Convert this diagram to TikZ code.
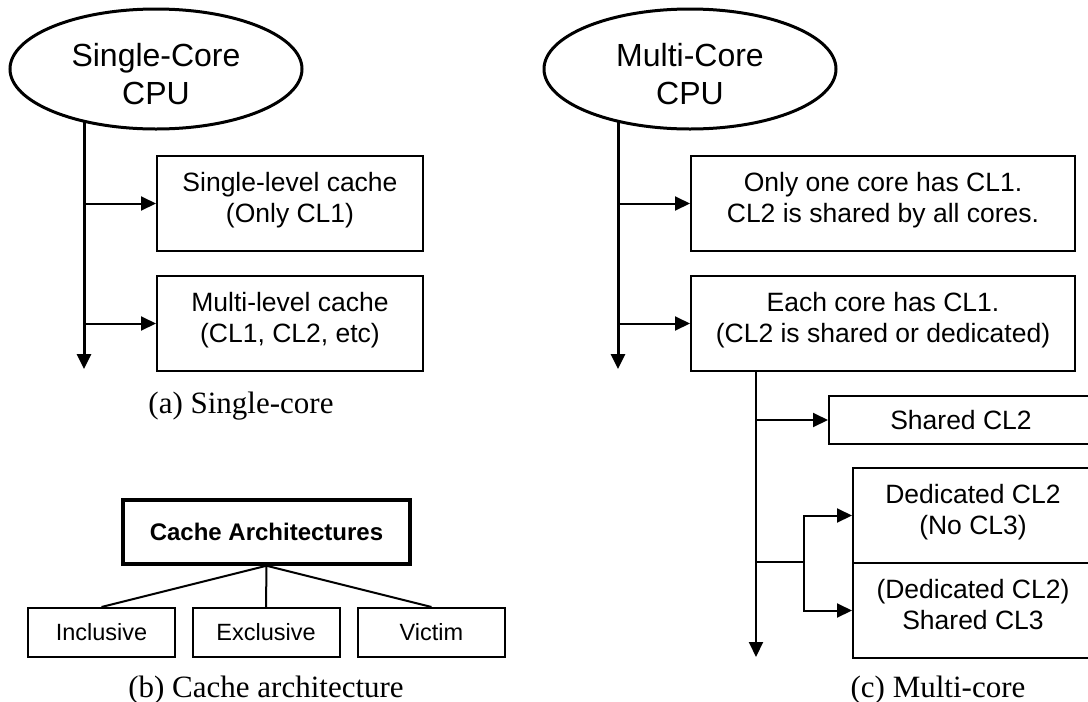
\documentclass[tikz,border=0pt]{standalone}
\usepackage{fontspec}
\setmainfont{Liberation Sans}
\newfontfamily\capfont{Liberation Serif}
\usetikzlibrary{arrows.meta,shapes.geometric}
\newcommand\dnstrut{\rule[-12pt]{0pt}{12pt}}
\newcommand\upstrut{\rule{0pt}{34pt}}
\begin{document}
\begin{tikzpicture}[x=1pt,y=-1pt,
  cpu/.style={ellipse, draw, line width=3pt, minimum width=292, minimum height=120, inner sep=0pt, align=center, font=\fontsize{32}{38}\selectfont},
  cbox/.style={rectangle, draw, line width=2pt, anchor=north west, inner sep=0pt, align=center, font=\fontsize{26.5}{31}\selectfont},
  leaf/.style={rectangle, draw, line width=2pt, minimum width=147, minimum height=49, inner sep=0pt, font=\fontsize{23.5}{28}\selectfont},
  trunk/.style={line width=3pt, -{Triangle[length=15pt,width=14pt]}},
  thinline/.style={line width=2pt},
  arr/.style={line width=2pt, -{Triangle[length=15pt,width=14pt]}},
  captxt/.style={anchor=base, font=\capfont\fontsize{31}{36}\selectfont},
]
\useasboundingbox (0,0) rectangle (1088,702);

% (a) Single-core
\node[cpu] (sc) at (156,69) {\upstrut Single-Core\\CPU};
\node[cbox, minimum width=266, minimum height=95] (s1) at (156,155) {Single-level cache\\(Only CL1)\dnstrut};
\node[cbox, minimum width=266, minimum height=95] (s2) at (156,275) {Multi-level cache\\(CL1, CL2, etc)\dnstrut};
\coordinate (send) at (84,369);
\draw[trunk] (send |- sc.215.8) -- (send);
\draw[arr] (s1.west -| send) -- (s1.west);
\draw[arr] (s2.west -| send) -- (s2.west);
\node[captxt] (capa) at (241,413) {(a) Single-core};

% (c) Multi-core
\node[cpu] (mc) at (690,69) {\upstrut Multi-Core\\CPU};
\node[cbox, minimum width=384, minimum height=95] (m1) at (690,155) {Only one core has CL1.\\CL2 is shared by all cores.\dnstrut};
\node[cbox, minimum width=384, minimum height=95] (m2) at (690,275) {Each core has CL1.\\(CL2 is shared or dedicated)\dnstrut};
\coordinate (mend) at (618,369);
\draw[trunk] (mend |- mc.215.8) -- (mend);
\draw[arr] (m1.west -| mend) -- (m1.west);
\draw[arr] (m2.west -| mend) -- (m2.west);

\node[cbox, minimum width=264, minimum height=48] (sh) at (828,395) {Shared CL2};
\node[cbox, minimum width=240, minimum height=95] (d1) at (852,467) {Dedicated CL2\\(No CL3)\dnstrut};
\node[cbox, minimum width=240, minimum height=95] (d2) at (852,562) {(Dedicated CL2)\\Shared CL3\dnstrut};
\coordinate (m2end) at (756,657);
\coordinate (br) at (804,562);
\draw[arr] (m2end |- m2.south) -- (m2end);
\draw[arr] (sh.west -| m2end) -- (sh.west);
\draw[thinline] (br -| m2end) -- (br);
\draw[arr] (br) |- (d1.west);
\draw[arr] (br) |- (d2.west);
\node[captxt] (capc) at (938,697) {(c) Multi-core};

% (b) Cache architecture
\node[rectangle, draw, line width=3.5pt, minimum width=287, minimum height=64, inner sep=0pt, font=\bfseries\fontsize{24}{28}\selectfont] (ca) at (266.5,532) {Cache Architectures};
\node[leaf] (inc) at (101.5,632.5) {Inclusive};
\node[leaf] (exc) at (266,632.5) {Exclusive};
\node[leaf] (vic) at (431.5,632.5) {Victim};
\draw[thinline] (ca.south) -- (inc.north);
\draw[thinline] (ca.south) -- (exc.north);
\draw[thinline] (ca.south) -- (vic.north);
\node[captxt] (capb) at (266,697) {(b) Cache architecture};
\end{tikzpicture}
\end{document}
